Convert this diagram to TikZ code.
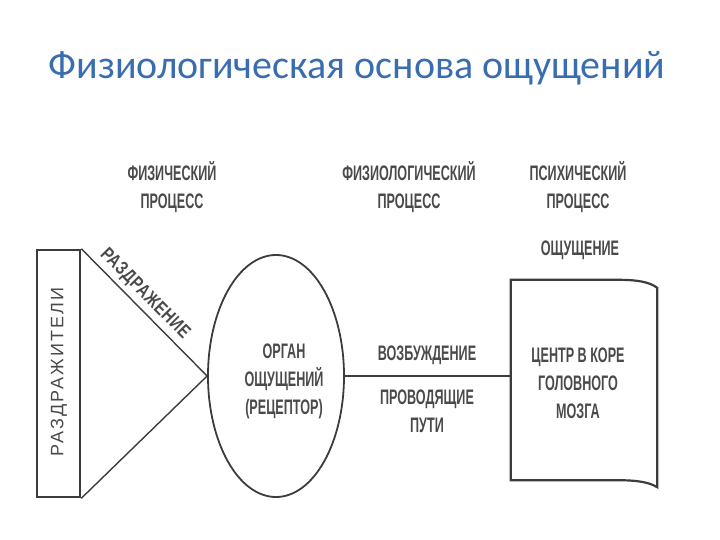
\documentclass[tikz,border=0pt]{standalone}
\usepackage{fontspec}
\usetikzlibrary{shapes.geometric}
\newfontfamily\titlefont{Carlito}
\newfontfamily\condfont[FakeStretch=0.6]{Liberation Sans Bold}
\newfontfamily\slopefont[FakeStretch=0.78,LetterSpace=3]{Liberation Sans Bold}
\newfontfamily\widefont[LetterSpace=12]{Liberation Sans}
\definecolor{titleblue}{HTML}{3A6DB0}
\definecolor{ink}{HTML}{3C3C3C}
\definecolor{txt}{HTML}{4A4A4A}
\tikzset{
  lbl/.style={font=\condfont\fontsize{21}{28}\selectfont, text=txt, align=center, inner sep=1pt},
  ln/.style={draw=ink, line width=1.8pt},
}
\begin{document}
\begin{tikzpicture}[x=1pt,y=-1pt]
\useasboundingbox (0,0) rectangle (720,540);
\node[font=\titlefont\fontsize{40}{44}\selectfont, text=titleblue, anchor=base] (title) at (357,79) {Физиологическая основа ощущений};

% headings
\node[lbl] (h1) at (172,187) {ФИЗИЧЕСКИЙ\\ПРОЦЕСС};
\node[lbl] (h2) at (409,187) {ФИЗИОЛОГИЧЕСКИЙ\\ПРОЦЕСС};
\node[lbl] (h3) at (578,187) {ПСИХИЧЕСКИЙ\\ПРОЦЕСС};
\node[lbl] (h4) at (580,250) {ОЩУЩЕНИЕ};

% stimuli box
\node[draw=ink, line width=2.6pt, minimum width=43, minimum height=247, inner sep=0] (stim) at (58.5,373.5) {};
\node[font=\widefont\fontsize{18}{20}\selectfont, text=txt, rotate=90, inner sep=0] (stimtxt) at (59,372) {РАЗДРАЖИТЕЛИ};

% receptor
\node[ellipse, draw=ink, line width=1.8pt, minimum width=136, minimum height=242, inner sep=0] (rec) at (276,376) {};
\node[lbl] (rectxt) at (284,381) {ОРГАН\\ОЩУЩЕНИЙ\\(РЕЦЕПТОР)};

% triangle
\draw[ln, line width=1.4pt] (stim.north east) -- node[font=\slopefont\fontsize{19}{22}\selectfont, text=txt, inner sep=1pt, sloped, above=3pt, pos=0.43] (irr) {РАЗДРАЖЕНИЕ} (rec.west);
\draw[ln, line width=1.4pt] (stim.south east) -- (rec.west);

% brain centre
\node[minimum width=146, minimum height=200, inner sep=0] (brain) at (584,380) {};
\draw[ln, line width=2.2pt] (brain.north west) -- ([xshift=-40]brain.north east)
  .. controls ([xshift=-20]brain.north east) and ([xshift=-8,yshift=-2]brain.north east) .. ([yshift=-8]brain.north east)
  -- ([yshift=-7]brain.south east)
  .. controls ([xshift=-8,yshift=-2]brain.south east) and ([xshift=-20]brain.south east) .. ([xshift=-40]brain.south east)
  -- (brain.south west) -- cycle;
\node[lbl] (braintxt) at (578,383) {ЦЕНТР В КОРЕ\\ГОЛОВНОГО\\МОЗГА};

% pathway
\coordinate (bin) at (brain.west |- rec.east);
\draw[ln, line width=1.3pt] (rec.east) -- (bin);
\node[lbl] (exc) at (427,355) {ВОЗБУЖДЕНИЕ};
\node[lbl] (path) at (427,411) {ПРОВОДЯЩИЕ\\ПУТИ};
\end{tikzpicture}
\end{document}
